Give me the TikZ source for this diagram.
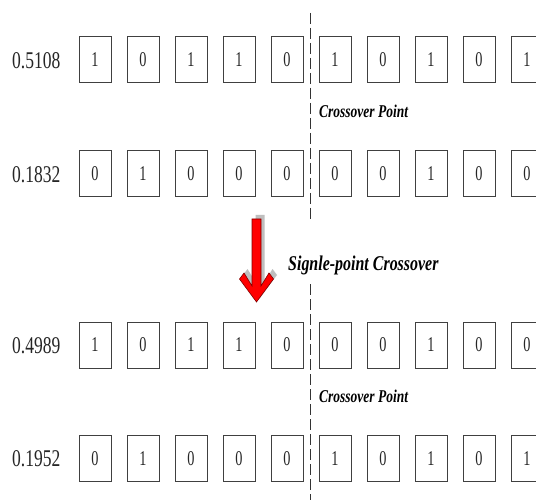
\documentclass[tikz,border=0pt]{standalone}
\usepackage{fontspec}
\setmainfont{Liberation Serif}
\newfontfamily\labfont[FakeStretch=0.73]{Liberation Serif}
\newfontfamily\boxfont[FakeStretch=0.68]{Liberation Serif}
\newfontfamily\capfont[FakeStretch=0.75,BoldItalicFont={Liberation Serif Bold Italic}]{Liberation Serif}
\newfontfamily\bigcapfont[FakeStretch=0.76,BoldItalicFont={Liberation Serif Bold Italic}]{Liberation Serif}
\begin{document}
\begin{tikzpicture}[x=1pt,y=-1pt,
  bit/.style={draw=black!75,line width=1pt,minimum width=32pt,minimum height=46pt,inner sep=0pt,
    font=\boxfont\fontsize{21}{21}\selectfont,text=black!85},
  lab/.style={anchor=west,inner sep=0pt,font=\labfont\fontsize{24}{24}\selectfont,text=black!85},
  captext/.style={anchor=west,inner sep=0pt,font=\capfont\bfseries\itshape\fontsize{18}{18}\selectfont},
  cutline/.style={draw=black!80,line width=1pt,dash pattern=on 11pt off 4pt}]
\useasboundingbox (0,0) rectangle (536,500);
\clip (0,0) rectangle (536,500);
\fill[white] (0,0) rectangle (536,500);
% labels
\node[lab] (l1) at (12,61) {0.5108};
\node[lab] (l2) at (12,175) {0.1832};
\node[lab] (l3) at (12,346) {0.4989};
\node[lab] (l4) at (12,459) {0.1952};
% bits
\foreach \r/\y/\bits in {1/59.5/{1,0,1,1,0,1,0,1,0,1},2/174/{0,1,0,0,0,0,0,1,0,0},3/345/{1,0,1,1,0,0,0,1,0,0},4/458.5/{0,1,0,0,0,1,0,1,0,1}}{
  \foreach \b [count=\i] in \bits {
    \node[bit] (r\r c\i) at ({95+48*(\i-1)},\y) {\b};
  }
}
% crossover cut line
\coordinate (ctop) at (310.5,13);
\coordinate (cmid1) at (310.5,222);
\coordinate (cmid2) at (310.5,284);
\coordinate (cbot) at (310.5,500);
\draw[cutline] (ctop) -- (cmid1);
\draw[cutline] (cmid2) -- (cbot);
% captions
\node[captext] (cp1) at (319,111) {Crossover Point};
\node[captext] (cp2) at (319,396) {Crossover Point};
\node[captext,font=\bigcapfont\bfseries\itshape\fontsize{21}{21}\selectfont] (sc) at (288,265) {Signle-point Crossover};
% arrow with shadow
\fill[black!25,shift={(3.5,-4)}] (252,219) -- (261,219) -- (261,286) -- (269,273) -- (273.5,279) -- (256.5,302) -- (239.5,279) -- (244,273) -- (252,286) -- cycle;
\filldraw[fill=red,draw=red!50!black,line width=0.6pt] (252,219) -- (261,219) -- (261,286) -- (269,273) -- (273.5,279) -- (256.5,302) -- (239.5,279) -- (244,273) -- (252,286) -- cycle;
\end{tikzpicture}
\end{document}
